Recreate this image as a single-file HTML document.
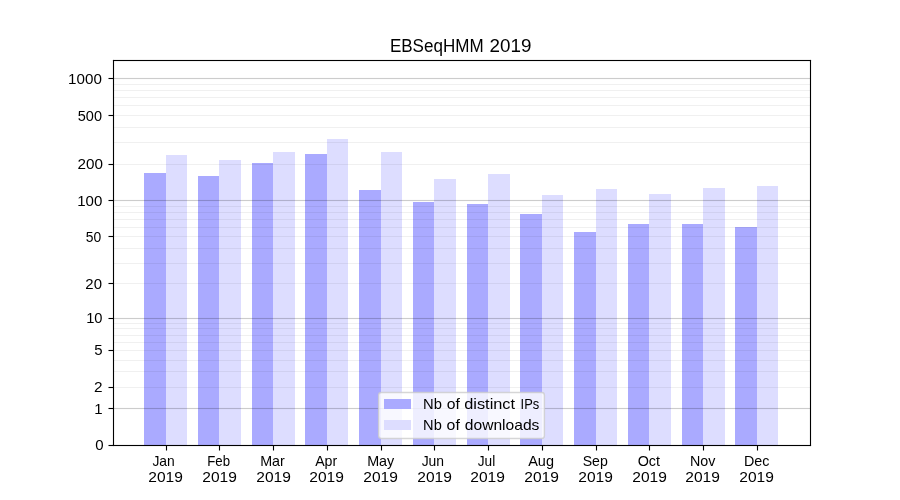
<!DOCTYPE html>
<html lang="en">
<head>
<meta charset="utf-8">
<title>EBSeqHMM 2019</title>
<style>
html,body{margin:0;padding:0;background:#fff;}
body{width:900px;height:500px;overflow:hidden;font-family:"Liberation Sans",sans-serif;}
svg{display:block;will-change:transform;}
svg text{font-family:"Liberation Sans",sans-serif;fill:#000;}
.b1{fill:#aaaaff;}
.b2{fill:#ddddff;}
.gM{fill:rgba(0,0,0,0.2);}
.gm{fill:rgba(0,0,0,0.06);}
.gMf{fill:rgba(0,0,0,0.013);}
.k{fill:#000;}
.kf{fill:rgba(0,0,0,0.055);}
.kq{fill:rgba(0,0,0,0.0275);}
.kh{fill:rgba(0,0,0,0.5);}
</style>
</head>
<body>
<svg width="900" height="500" viewBox="0 0 900 500">
<rect x="0" y="0" width="900" height="500" fill="#ffffff"/>
<g shape-rendering="crispEdges">
<rect class="b1" x="144" y="173" width="22" height="272"/><rect class="b2" x="166" y="155" width="21" height="290"/>
<rect class="b1" x="198" y="176" width="21" height="269"/><rect class="b2" x="219" y="160" width="22" height="285"/>
<rect class="b1" x="252" y="163" width="21" height="282"/><rect class="b2" x="273" y="152" width="22" height="293"/>
<rect class="b1" x="305" y="154" width="22" height="291"/><rect class="b2" x="327" y="139" width="21" height="306"/>
<rect class="b1" x="359" y="190" width="22" height="255"/><rect class="b2" x="381" y="152" width="21" height="293"/>
<rect class="b1" x="413" y="202" width="21" height="243"/><rect class="b2" x="434" y="179" width="22" height="266"/>
<rect class="b1" x="467" y="204" width="21" height="241"/><rect class="b2" x="488" y="174" width="22" height="271"/>
<rect class="b1" x="520" y="214" width="22" height="231"/><rect class="b2" x="542" y="195" width="21" height="250"/>
<rect class="b1" x="574" y="232" width="22" height="213"/><rect class="b2" x="596" y="189" width="21" height="256"/>
<rect class="b1" x="628" y="224" width="21" height="221"/><rect class="b2" x="649" y="194" width="22" height="251"/>
<rect class="b1" x="682" y="224" width="21" height="221"/><rect class="b2" x="703" y="188" width="22" height="257"/>
<rect class="b1" x="735" y="227" width="22" height="218"/><rect class="b2" x="757" y="186" width="21" height="259"/>
<rect class="gm" x="114" y="84" width="696" height="1"/><rect class="gm" x="114" y="90" width="696" height="1"/><rect class="gm" x="114" y="97" width="696" height="1"/><rect class="gm" x="114" y="105" width="696" height="1"/><rect class="gm" x="114" y="115" width="696" height="1"/><rect class="gm" x="114" y="127" width="696" height="1"/><rect class="gm" x="114" y="142" width="696" height="1"/><rect class="gm" x="114" y="164" width="696" height="1"/><rect class="gm" x="114" y="206" width="696" height="1"/><rect class="gm" x="114" y="212" width="696" height="1"/><rect class="gm" x="114" y="219" width="696" height="1"/><rect class="gm" x="114" y="227" width="696" height="1"/><rect class="gm" x="114" y="236" width="696" height="1"/><rect class="gm" x="114" y="248" width="696" height="1"/><rect class="gm" x="114" y="263" width="696" height="1"/><rect class="gm" x="114" y="283" width="696" height="1"/><rect class="gm" x="114" y="323" width="696" height="1"/><rect class="gm" x="114" y="328" width="696" height="1"/><rect class="gm" x="114" y="335" width="696" height="1"/><rect class="gm" x="114" y="342" width="696" height="1"/><rect class="gm" x="114" y="350" width="696" height="1"/><rect class="gm" x="114" y="360" width="696" height="1"/><rect class="gm" x="114" y="371" width="696" height="1"/><rect class="gm" x="114" y="387" width="696" height="1"/>
<rect class="gMf" x="114" y="77" width="696" height="1"/><rect class="gM" x="114" y="78" width="696" height="1"/><rect class="gMf" x="114" y="79" width="696" height="1"/><rect class="gMf" x="114" y="199" width="696" height="1"/><rect class="gM" x="114" y="200" width="696" height="1"/><rect class="gMf" x="114" y="201" width="696" height="1"/><rect class="gMf" x="114" y="317" width="696" height="1"/><rect class="gM" x="114" y="318" width="696" height="1"/><rect class="gMf" x="114" y="319" width="696" height="1"/><rect class="gMf" x="114" y="407" width="696" height="1"/><rect class="gM" x="114" y="408" width="696" height="1"/><rect class="gMf" x="114" y="409" width="696" height="1"/>
<rect class="kf" x="113" y="59" width="698" height="1"/><rect class="kf" x="113" y="446" width="698" height="1"/><rect class="kf" x="112" y="60" width="1" height="386"/><rect class="kf" x="811" y="60" width="1" height="386"/><rect class="kf" x="114" y="61" width="696" height="1"/><rect class="kf" x="114" y="444" width="696" height="1"/><rect class="kf" x="114" y="62" width="1" height="382"/><rect class="kf" x="809" y="62" width="1" height="382"/>
<rect class="kf" x="113" y="59" width="1" height="1"/><rect class="kf" x="112" y="60" width="1" height="1"/><rect class="kf" x="114" y="61" width="1" height="1"/><rect class="kf" x="810" y="59" width="1" height="1"/><rect class="kf" x="811" y="60" width="1" height="1"/><rect class="kf" x="809" y="61" width="1" height="1"/><rect class="kf" x="809" y="444" width="1" height="1"/><rect class="kf" x="811" y="445" width="1" height="1"/><rect class="kf" x="810" y="446" width="1" height="1"/><rect class="kf" x="112" y="444" width="1" height="1"/><rect class="kf" x="114" y="444" width="1" height="1"/><rect class="kf" x="113" y="446" width="1" height="1"/>
<rect class="k" x="113" y="60" width="1" height="386"/><rect class="k" x="810" y="60" width="1" height="386"/><rect class="k" x="113" y="60" width="698" height="1"/><rect class="k" x="113" y="445" width="698" height="1"/>
<rect class="kf" x="109" y="77" width="4" height="1"/><rect class="kf" x="109" y="79" width="4" height="1"/><rect class="kq" x="108" y="77" width="1" height="1"/><rect class="kq" x="108" y="79" width="1" height="1"/><rect class="kh" x="108" y="78" width="1" height="1"/><rect class="k" x="109" y="78" width="4" height="1"/><rect class="kf" x="109" y="114" width="4" height="1"/><rect class="kf" x="109" y="116" width="4" height="1"/><rect class="kq" x="108" y="114" width="1" height="1"/><rect class="kq" x="108" y="116" width="1" height="1"/><rect class="kh" x="108" y="115" width="1" height="1"/><rect class="k" x="109" y="115" width="4" height="1"/><rect class="kf" x="109" y="163" width="4" height="1"/><rect class="kf" x="109" y="165" width="4" height="1"/><rect class="kq" x="108" y="163" width="1" height="1"/><rect class="kq" x="108" y="165" width="1" height="1"/><rect class="kh" x="108" y="164" width="1" height="1"/><rect class="k" x="109" y="164" width="4" height="1"/><rect class="kf" x="109" y="199" width="4" height="1"/><rect class="kf" x="109" y="201" width="4" height="1"/><rect class="kq" x="108" y="199" width="1" height="1"/><rect class="kq" x="108" y="201" width="1" height="1"/><rect class="kh" x="108" y="200" width="1" height="1"/><rect class="k" x="109" y="200" width="4" height="1"/><rect class="kf" x="109" y="235" width="4" height="1"/><rect class="kf" x="109" y="237" width="4" height="1"/><rect class="kq" x="108" y="235" width="1" height="1"/><rect class="kq" x="108" y="237" width="1" height="1"/><rect class="kh" x="108" y="236" width="1" height="1"/><rect class="k" x="109" y="236" width="4" height="1"/><rect class="kf" x="109" y="282" width="4" height="1"/><rect class="kf" x="109" y="284" width="4" height="1"/><rect class="kq" x="108" y="282" width="1" height="1"/><rect class="kq" x="108" y="284" width="1" height="1"/><rect class="kh" x="108" y="283" width="1" height="1"/><rect class="k" x="109" y="283" width="4" height="1"/><rect class="kf" x="109" y="317" width="4" height="1"/><rect class="kf" x="109" y="319" width="4" height="1"/><rect class="kq" x="108" y="317" width="1" height="1"/><rect class="kq" x="108" y="319" width="1" height="1"/><rect class="kh" x="108" y="318" width="1" height="1"/><rect class="k" x="109" y="318" width="4" height="1"/><rect class="kf" x="109" y="349" width="4" height="1"/><rect class="kf" x="109" y="351" width="4" height="1"/><rect class="kq" x="108" y="349" width="1" height="1"/><rect class="kq" x="108" y="351" width="1" height="1"/><rect class="kh" x="108" y="350" width="1" height="1"/><rect class="k" x="109" y="350" width="4" height="1"/><rect class="kf" x="109" y="386" width="4" height="1"/><rect class="kf" x="109" y="388" width="4" height="1"/><rect class="kq" x="108" y="386" width="1" height="1"/><rect class="kq" x="108" y="388" width="1" height="1"/><rect class="kh" x="108" y="387" width="1" height="1"/><rect class="k" x="109" y="387" width="4" height="1"/><rect class="kf" x="109" y="407" width="4" height="1"/><rect class="kf" x="109" y="409" width="4" height="1"/><rect class="kq" x="108" y="407" width="1" height="1"/><rect class="kq" x="108" y="409" width="1" height="1"/><rect class="kh" x="108" y="408" width="1" height="1"/><rect class="k" x="109" y="408" width="4" height="1"/><rect class="kf" x="109" y="444" width="4" height="1"/><rect class="kf" x="109" y="446" width="4" height="1"/><rect class="kq" x="108" y="444" width="1" height="1"/><rect class="kq" x="108" y="446" width="1" height="1"/><rect class="kh" x="108" y="445" width="1" height="1"/><rect class="k" x="109" y="445" width="4" height="1"/>
<rect class="kf" x="165" y="446" width="1" height="4"/><rect class="kf" x="167" y="446" width="1" height="4"/><rect class="kq" x="165" y="450" width="1" height="1"/><rect class="kq" x="167" y="450" width="1" height="1"/><rect class="k" x="166" y="446" width="1" height="4"/><rect class="kh" x="166" y="450" width="1" height="1"/><rect class="kf" x="218" y="446" width="1" height="4"/><rect class="kf" x="220" y="446" width="1" height="4"/><rect class="kq" x="218" y="450" width="1" height="1"/><rect class="kq" x="220" y="450" width="1" height="1"/><rect class="k" x="219" y="446" width="1" height="4"/><rect class="kh" x="219" y="450" width="1" height="1"/><rect class="kf" x="272" y="446" width="1" height="4"/><rect class="kf" x="274" y="446" width="1" height="4"/><rect class="kq" x="272" y="450" width="1" height="1"/><rect class="kq" x="274" y="450" width="1" height="1"/><rect class="k" x="273" y="446" width="1" height="4"/><rect class="kh" x="273" y="450" width="1" height="1"/><rect class="kf" x="326" y="446" width="1" height="4"/><rect class="kf" x="328" y="446" width="1" height="4"/><rect class="kq" x="326" y="450" width="1" height="1"/><rect class="kq" x="328" y="450" width="1" height="1"/><rect class="k" x="327" y="446" width="1" height="4"/><rect class="kh" x="327" y="450" width="1" height="1"/><rect class="kf" x="380" y="446" width="1" height="4"/><rect class="kf" x="382" y="446" width="1" height="4"/><rect class="kq" x="380" y="450" width="1" height="1"/><rect class="kq" x="382" y="450" width="1" height="1"/><rect class="k" x="381" y="446" width="1" height="4"/><rect class="kh" x="381" y="450" width="1" height="1"/><rect class="kf" x="433" y="446" width="1" height="4"/><rect class="kf" x="435" y="446" width="1" height="4"/><rect class="kq" x="433" y="450" width="1" height="1"/><rect class="kq" x="435" y="450" width="1" height="1"/><rect class="k" x="434" y="446" width="1" height="4"/><rect class="kh" x="434" y="450" width="1" height="1"/><rect class="kf" x="487" y="446" width="1" height="4"/><rect class="kf" x="489" y="446" width="1" height="4"/><rect class="kq" x="487" y="450" width="1" height="1"/><rect class="kq" x="489" y="450" width="1" height="1"/><rect class="k" x="488" y="446" width="1" height="4"/><rect class="kh" x="488" y="450" width="1" height="1"/><rect class="kf" x="541" y="446" width="1" height="4"/><rect class="kf" x="543" y="446" width="1" height="4"/><rect class="kq" x="541" y="450" width="1" height="1"/><rect class="kq" x="543" y="450" width="1" height="1"/><rect class="k" x="542" y="446" width="1" height="4"/><rect class="kh" x="542" y="450" width="1" height="1"/><rect class="kf" x="595" y="446" width="1" height="4"/><rect class="kf" x="597" y="446" width="1" height="4"/><rect class="kq" x="595" y="450" width="1" height="1"/><rect class="kq" x="597" y="450" width="1" height="1"/><rect class="k" x="596" y="446" width="1" height="4"/><rect class="kh" x="596" y="450" width="1" height="1"/><rect class="kf" x="648" y="446" width="1" height="4"/><rect class="kf" x="650" y="446" width="1" height="4"/><rect class="kq" x="648" y="450" width="1" height="1"/><rect class="kq" x="650" y="450" width="1" height="1"/><rect class="k" x="649" y="446" width="1" height="4"/><rect class="kh" x="649" y="450" width="1" height="1"/><rect class="kf" x="702" y="446" width="1" height="4"/><rect class="kf" x="704" y="446" width="1" height="4"/><rect class="kq" x="702" y="450" width="1" height="1"/><rect class="kq" x="704" y="450" width="1" height="1"/><rect class="k" x="703" y="446" width="1" height="4"/><rect class="kh" x="703" y="450" width="1" height="1"/><rect class="kf" x="756" y="446" width="1" height="4"/><rect class="kf" x="758" y="446" width="1" height="4"/><rect class="kq" x="756" y="450" width="1" height="1"/><rect class="kq" x="758" y="450" width="1" height="1"/><rect class="k" x="757" y="446" width="1" height="4"/><rect class="kh" x="757" y="450" width="1" height="1"/>
</g>
<rect x="378.6" y="392.5" width="165.8" height="46.05" rx="2.78" ry="2.78" fill="rgba(255,255,255,0.8)" stroke="rgba(204,204,204,0.8)" stroke-width="1.39"/>
<g shape-rendering="crispEdges"><rect class="b1" x="384" y="399" width="27" height="10"/><rect class="b2" x="384" y="420" width="27" height="10"/></g>
<text id="title" y="52.00" font-size="18.70"><tspan x="389.90" textLength="93.72" lengthAdjust="spacingAndGlyphs">EBSeqHMM</tspan> <tspan x="489.53" textLength="41.88" lengthAdjust="spacingAndGlyphs">2019</tspan></text>
<text id="y1000" transform="translate(68.08 83.87) scale(1.0542 1)" font-size="14.40">1000</text>
<text id="y500" transform="translate(77.80 121.31) scale(1.0071 1)" font-size="14.40">500</text>
<text id="y200" transform="translate(77.55 169.10) scale(1.0594 1)" font-size="14.40">200</text>
<text id="y100" transform="translate(77.24 205.75) scale(1.0458 1)" font-size="14.40">100</text>
<text id="y50" transform="translate(85.86 242.29) scale(0.9646 1)" font-size="14.40">50</text>
<text id="y20" transform="translate(85.32 288.56) scale(1.0388 1)" font-size="14.40">20</text>
<text id="y10" transform="translate(86.20 323.34) scale(1.0211 1)" font-size="14.40">10</text>
<text id="y5" transform="translate(94.37 355.04) scale(1.0426 1)" font-size="14.40">5</text>
<text id="y2" transform="translate(93.98 392.43) scale(1.0670 1)" font-size="14.40">2</text>
<text id="y1" transform="translate(94.35 414.20) scale(1.0426 1)" font-size="14.40">1</text>
<text id="y0" transform="translate(95.16 450.35) scale(1.0426 1)" font-size="14.40">0</text>
<text id="x_Jan" transform="translate(152.42 466.00) scale(0.9629 1)" font-size="14.40">Jan</text>
<text id="x_Feb" transform="translate(207.25 466.00) scale(0.9188 1)" font-size="14.40">Feb</text>
<text id="x_Mar" transform="translate(260.15 466.00) scale(0.9925 1)" font-size="14.40">Mar</text>
<text id="x_Apr" transform="translate(315.18 466.00) scale(0.9833 1)" font-size="14.40">Apr</text>
<text id="x_May" transform="translate(367.16 466.00) scale(0.9960 1)" font-size="14.40">May</text>
<text id="x_Jun" transform="translate(421.65 466.00) scale(0.9670 1)" font-size="14.40">Jun</text>
<text id="x_Jul" transform="translate(477.76 466.00) scale(0.9508 1)" font-size="14.40">Jul</text>
<text id="x_Aug" transform="translate(528.21 466.00) scale(1.0066 1)" font-size="14.40">Aug</text>
<text id="x_Sep" transform="translate(582.71 466.00) scale(0.9813 1)" font-size="14.40">Sep</text>
<text id="x_Oct" transform="translate(637.67 466.00) scale(0.9982 1)" font-size="14.40">Oct</text>
<text id="x_Nov" transform="translate(690.05 466.00) scale(0.9917 1)" font-size="14.40">Nov</text>
<text id="x_Dec" transform="translate(743.98 466.00) scale(0.9966 1)" font-size="14.40">Dec</text>
<text id="x_Jan_2019" transform="translate(148.28 482.31) scale(1.0800 1)" font-size="14.40">2019</text>
<text id="x_Feb_2019" transform="translate(202.28 482.31) scale(1.0800 1)" font-size="14.40">2019</text>
<text id="x_Mar_2019" transform="translate(256.28 482.31) scale(1.0800 1)" font-size="14.40">2019</text>
<text id="x_Apr_2019" transform="translate(309.28 482.31) scale(1.0800 1)" font-size="14.40">2019</text>
<text id="x_May_2019" transform="translate(363.28 482.31) scale(1.0800 1)" font-size="14.40">2019</text>
<text id="x_Jun_2019" transform="translate(417.28 482.31) scale(1.0800 1)" font-size="14.40">2019</text>
<text id="x_Jul_2019" transform="translate(470.28 482.31) scale(1.0800 1)" font-size="14.40">2019</text>
<text id="x_Aug_2019" transform="translate(524.28 482.31) scale(1.0800 1)" font-size="14.40">2019</text>
<text id="x_Sep_2019" transform="translate(578.28 482.31) scale(1.0800 1)" font-size="14.40">2019</text>
<text id="x_Oct_2019" transform="translate(632.28 482.31) scale(1.0800 1)" font-size="14.40">2019</text>
<text id="x_Nov_2019" transform="translate(685.28 482.31) scale(1.0800 1)" font-size="14.40">2019</text>
<text id="x_Dec_2019" transform="translate(739.28 482.31) scale(1.0800 1)" font-size="14.40">2019</text>
<text id="leg1" y="409.00" font-size="14.40"><tspan x="423.01" textLength="18.86" lengthAdjust="spacingAndGlyphs">Nb</tspan> <tspan x="446.66" textLength="13.10" lengthAdjust="spacingAndGlyphs">of</tspan> <tspan x="464.26" textLength="50.82" lengthAdjust="spacingAndGlyphs">distinct</tspan> <tspan x="520.58" textLength="18.65" lengthAdjust="spacingAndGlyphs">IPs</tspan></text>
<text id="leg2" y="430.00" font-size="14.40"><tspan x="423.13" textLength="18.68" lengthAdjust="spacingAndGlyphs">Nb</tspan> <tspan x="446.64" textLength="13.21" lengthAdjust="spacingAndGlyphs">of</tspan> <tspan x="464.82" textLength="74.59" lengthAdjust="spacingAndGlyphs">downloads</tspan></text>
</svg>
</body>
</html>
